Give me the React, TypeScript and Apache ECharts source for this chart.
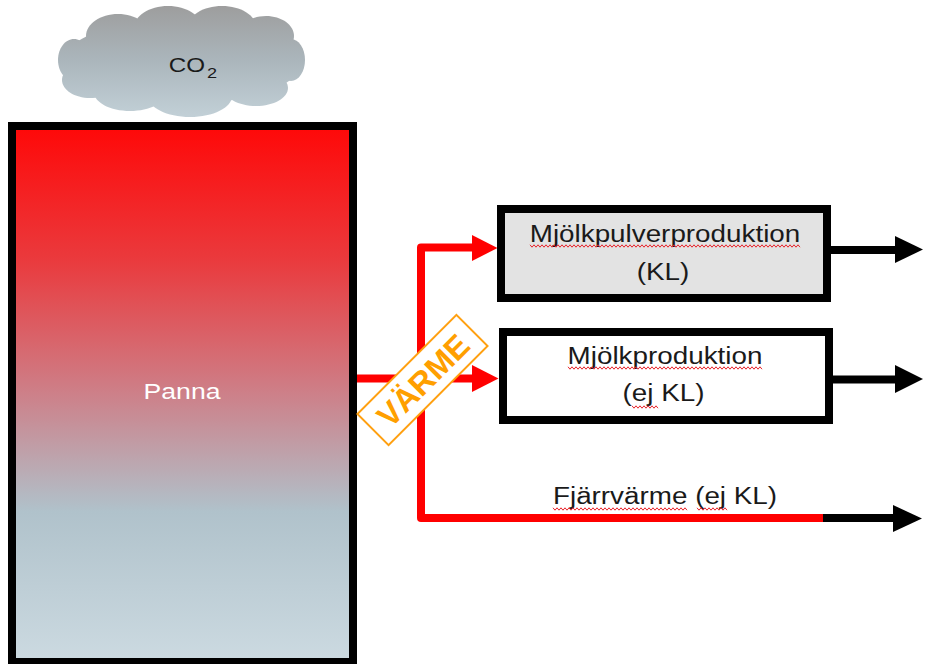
import React, { useEffect, useRef } from "react";
import * as echarts from "echarts";

// ---- content ----
const sourceLabel = "Panna";
const emissionLabel = ["CO", "2"];
const flowLabel = "VÄRME";
const consumerNames = ["Mjölkpulverproduktion", "Mjölkproduktion", "Fjärrvärme (ej KL)"];
const consumerTags = ["(KL)", "(ej KL)", ""];

const FONT = '"Liberation Sans", Arial, sans-serif';
const SX = 1.21; // horizontal stretch of the original picture

function wave(x1: number, x2: number, y: number) {
  const pts: number[][] = [];
  let up = true;
  for (let x = x1; x <= x2; x += 2) {
    pts.push([x, y + (up ? -1.2 : 1.2)]);
    up = !up;
  }
  return {
    type: "polyline",
    shape: { points: pts },
    style: { stroke: "#e8232a", lineWidth: 1, fill: null },
    silent: true,
  };
}

function label(text: string, x: number, y: number, size = 23, color = "#1a1a1a", extra: any = {}) {
  return {
    type: "text",
    x,
    y,
    scaleX: SX,
    style: {
      text,
      x: 0,
      y: 0,
      fill: color,
      fontSize: size,
      fontFamily: FONT,
      align: extra.align || "center",
      verticalAlign: "middle",
      fontWeight: extra.fontWeight || "normal",
    },
  };
}

export default function App() {
  const ref = useRef<HTMLDivElement>(null);

  useEffect(() => {
    if (!ref.current) return;
    const chart = echarts.init(ref.current, undefined, { renderer: "svg" });

    const cloudGrad = {
      type: "linear",
      x: 0,
      y: 5,
      x2: 0,
      y2: 117,
      global: true,
      colorStops: [
        { offset: 0, color: "#9d9d9d" },
        { offset: 0.5, color: "#abb6bc" },
        { offset: 1, color: "#c2d0d7" },
      ],
    };
    const cloudParts = [
      [182, 62, 120, 42],
      [118, 36, 32, 22],
      [168, 28, 34, 22],
      [222, 27, 34, 21],
      [266, 36, 28, 20],
      [90, 80, 28, 18],
      [130, 92, 36, 19],
      [190, 96, 42, 21],
      [256, 88, 32, 18],
      [74, 60, 16, 21],
      [291, 60, 14, 21],
    ];
    const cloud = cloudParts.map((p) => ({
      type: "ellipse",
      shape: { cx: p[0], cy: p[1], rx: p[2], ry: p[3] },
      style: { fill: cloudGrad, stroke: null },
    }));

    const red = "#ff0000";

    const elements: any[] = [
      ...cloud,
      label(emissionLabel[0], 205, 65, 20, "#1a1a1a", { align: "right" }),
      label(emissionLabel[1], 207, 73, 15, "#1a1a1a", { align: "left" }),
      // Panna
      {
        type: "rect",
        shape: { x: 12, y: 126, width: 341, height: 536 },
        style: {
          fill: {
            type: "linear",
            x: 0,
            y: 0,
            x2: 0,
            y2: 1,
            colorStops: [
              { offset: 0, color: "#ff0808" },
              { offset: 0.25, color: "#ea3a3d" },
              { offset: 0.5, color: "#cd8089" },
              { offset: 0.72, color: "#b0c2cb" },
              { offset: 1, color: "#ccdae1" },
            ],
          },
          stroke: "#000",
          lineWidth: 8,
        },
      },
      label(sourceLabel, 182, 391, 22, "#ffffff"),
      // red flows
      {
        type: "polyline",
        shape: { points: [[474, 247.5], [421, 247.5], [421, 518], [826, 518]] },
        style: { stroke: red, lineWidth: 8, fill: null, lineJoin: "round" },
      },
      {
        type: "line",
        shape: { x1: 357, y1: 378.5, x2: 474, y2: 378.5 },
        style: { stroke: red, lineWidth: 8 },
      },
      { type: "polygon", shape: { points: [[472, 235], [497.5, 248], [472, 261]] }, style: { fill: red } },
      { type: "polygon", shape: { points: [[472, 365], [498.5, 378.5], [472, 392]] }, style: { fill: red } },
      // black outputs
      { type: "line", shape: { x1: 823, y1: 518, x2: 896, y2: 518 }, style: { stroke: "#000", lineWidth: 8 } },
      { type: "polygon", shape: { points: [[893, 505], [922, 518.5], [893, 532]] }, style: { fill: "#000" } },
      { type: "line", shape: { x1: 829, y1: 250, x2: 897, y2: 250 }, style: { stroke: "#000", lineWidth: 8 } },
      { type: "polygon", shape: { points: [[895, 236], [923, 249.5], [895, 263]] }, style: { fill: "#000" } },
      { type: "line", shape: { x1: 831, y1: 379.5, x2: 897, y2: 379.5 }, style: { stroke: "#000", lineWidth: 8 } },
      { type: "polygon", shape: { points: [[895, 365], [923, 379], [895, 393]] }, style: { fill: "#000" } },
      // boxes
      {
        type: "rect",
        shape: { x: 501, y: 209, width: 326, height: 89 },
        style: { fill: "#e3e3e3", stroke: "#000", lineWidth: 8 },
      },
      {
        type: "rect",
        shape: { x: 503, y: 332, width: 326, height: 88 },
        style: { fill: "#ffffff", stroke: "#000", lineWidth: 8 },
      },
      label(consumerNames[0], 665, 233.5),
      label(consumerTags[0], 663, 272),
      label(consumerNames[1], 665, 355.5),
      label(consumerTags[1], 663.5, 393),
      label(consumerNames[2], 665, 495.5),
      wave(530, 800, 246),
      wave(568, 763, 368),
      wave(632, 658, 407),
      wave(553, 687, 509),
      wave(697, 727, 509),
      // VÄRME tag
      {
        type: "group",
        x: 422.5,
        y: 380,
        rotation: (45 * Math.PI) / 180,
        children: [
          {
            type: "rect",
            shape: { x: -70, y: -22, width: 140, height: 44 },
            style: { fill: "#ffffff", stroke: "#ffa010", lineWidth: 2 },
          },
          {
            type: "text",
            style: {
              text: flowLabel,
              x: 0,
              y: 1,
              fill: "#ff9f00",
              fontSize: 32,
              fontWeight: "bold",
              fontFamily: FONT,
              align: "center",
              verticalAlign: "middle",
            },
          },
        ],
      },
    ];

    chart.setOption({
      animation: false,
      backgroundColor: "#ffffff",
      graphic: { elements },
    });

    return () => chart.dispose();
  }, []);

  return (
    <div
      ref={ref}
      style={{ position: "fixed", left: 0, top: 0, width: 925, height: 664 }}
    />
  );
}
